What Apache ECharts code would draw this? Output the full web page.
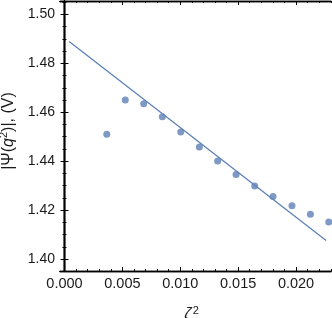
<!DOCTYPE html>
<html>
<head>
<meta charset="utf-8">
<script src="https://cdn.jsdelivr.net/npm/echarts@6/dist/echarts.min.js"></script>
<style>html,body{margin:0;padding:0;background:#fff}#c{width:332px;height:318px}</style>
</head>
<body>
<div id="c"></div>
<script>
// data
const zeta2 = [0.00365,0.00525,0.00684,0.00845,0.01004,0.01165,0.01323,0.01482,0.01643,0.01801,0.01965,0.02124,0.02283];
const psi   = [1.4510,1.4650,1.4635,1.4582,1.4519,1.4458,1.4401,1.4346,1.4299,1.4256,1.4218,1.4183,1.4151];
const fitX  = [0.0004,0.0226];
const fitY  = [1.4889,1.4076];
const xTicks = [0.000,0.005,0.010,0.015,0.020];
const yTicks = [1.40,1.42,1.44,1.46,1.48,1.50];
const xRange = [-0.00039,0.02302];
const yRange = [1.3951,1.5055];

const xMinor = []; for (let i = 0; i <= 23; i++) xMinor.push(+(i*0.001).toFixed(4));
const yMinor = []; for (let i = 0; i <= 22; i++) yMinor.push(+(1.395+i*0.005).toFixed(4));

const FONT = 'Liberation Sans, Arial, sans-serif';
const COL = '#5E81B5';
const AX = '#000';
const TXT = '#1a1a1a';

function xa(pos, vals, len, labels, extra) {
  return Object.assign({
    type: 'value', position: pos, min: xRange[0], max: xRange[1],
    axisLine: {show: true, lineStyle: {color: AX, width: 1.4}},
    axisTick: {show: true, inside: true, length: len, customValues: vals, lineStyle: {color: AX, width: 1}},
    axisLabel: labels ? {show: true, customValues: xTicks, formatter: v => v.toFixed(3), fontFamily: FONT, fontSize: 14.5, color: TXT, margin: 5} : {show: false},
    splitLine: {show: false}
  }, extra || {});
}
function ya(pos, vals, len, labels, extra) {
  return Object.assign({
    type: 'value', position: pos, min: yRange[0], max: yRange[1],
    axisLine: {show: true, lineStyle: {color: AX, width: 1.4}},
    axisTick: {show: true, inside: true, length: len, customValues: vals, lineStyle: {color: AX, width: 1}},
    axisLabel: labels ? {show: true, customValues: yTicks, formatter: v => v.toFixed(2), fontFamily: FONT, fontSize: 14, color: TXT, margin: 5} : {show: false},
    splitLine: {show: false}
  }, extra || {});
}

const chart = echarts.init(document.getElementById('c'), null, {renderer: 'canvas'});
chart.setOption({
  animation: false,
  backgroundColor: '#fff',
  grid: {left: 60, right: 1, top: 1, bottom: 47, containLabel: false, outerBoundsMode: 'none'},
  xAxis: [
    xa('bottom', xTicks, 4, true, {
      name: '{i|ζ}{s|2}', nameLocation: 'middle', nameGap: 34,
      nameTextStyle: {padding: [0, 8, 0, 0], rich: {
        i: {fontFamily: FONT, fontStyle: 'italic', fontSize: 16, color: TXT},
        s: {fontFamily: FONT, fontSize: 11, color: TXT, verticalAlign: 'top', padding: [0,0,9,1]}
      }}
    }),
    xa('bottom', xMinor, 2, false),
    xa('top', xTicks, 4, false),
    xa('top', xMinor, 2, false)
  ],
  yAxis: [
    ya('left', yTicks, 4, true, {
      name: '|Ψ({i|q}{s|2})|, (V)', nameLocation: 'middle', nameGap: 41,
      nameTextStyle: {fontFamily: FONT, fontSize: 16, color: TXT, padding: [0, 0, 0, 10],
        rich: {
          i: {fontFamily: FONT, fontStyle: 'italic', fontSize: 16, color: TXT},
          s: {fontFamily: FONT, fontSize: 11, color: TXT, verticalAlign: 'top', padding: [0,0,9,0]}
        }}
    }),
    ya('left', yMinor, 2, false),
    ya('right', yTicks, 4, false),
    ya('right', yMinor, 2, false)
  ],
  series: [
    {type: 'line', data: fitX.map((x, i) => [x, fitY[i]]), showSymbol: false,
     lineStyle: {color: COL, width: 1.3}, xAxisIndex: 0, yAxisIndex: 0, z: 2},
    {type: 'scatter', data: zeta2.map((x, i) => [x, psi[i]]), symbolSize: 7,
     itemStyle: {color: COL}, xAxisIndex: 0, yAxisIndex: 0, z: 3}
  ]
});
</script>
</body>
</html>
